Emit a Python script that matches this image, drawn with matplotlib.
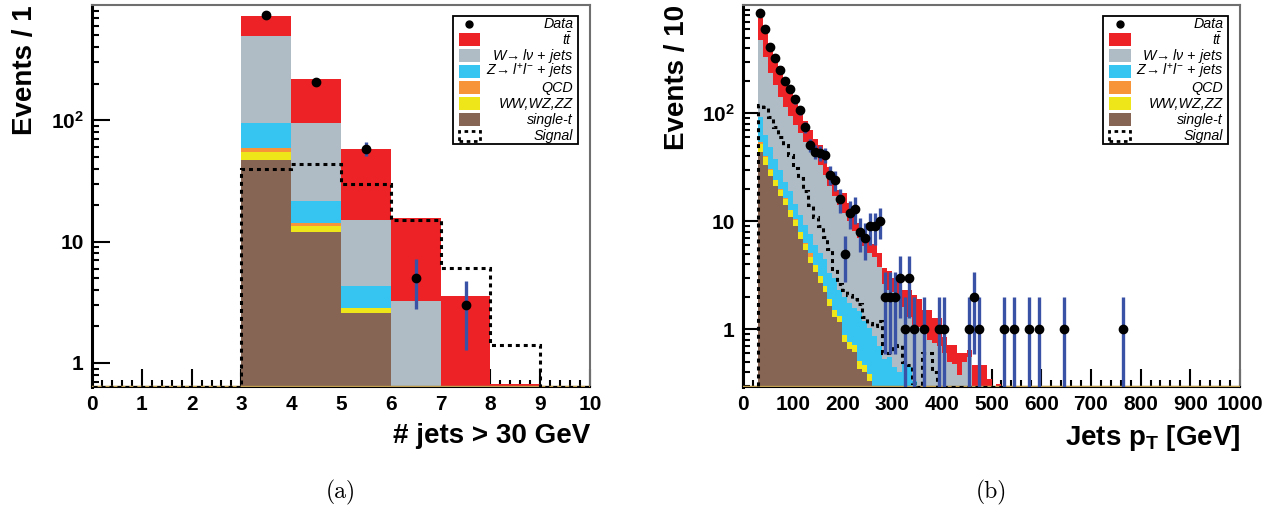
import numpy as np
import matplotlib
matplotlib.use("Agg")
import matplotlib.pyplot as plt
from matplotlib.patches import Rectangle
from matplotlib.ticker import FixedLocator, MultipleLocator, LogLocator, NullFormatter

plt.rcParams['font.family'] = ['Liberation Sans', 'DejaVu Sans']
plt.rcParams['mathtext.fontset'] = 'custom'
plt.rcParams['mathtext.rm'] = 'Liberation Sans'
plt.rcParams['mathtext.it'] = 'Liberation Sans:italic'
plt.rcParams['mathtext.bf'] = 'Liberation Sans:bold'

# ---- (a) jet multiplicity, bins of 1 from 0 to 10
njet_edges = np.arange(0, 11)
njet_singlet = [0, 0, 0, 47, 11.9, 2.56, 0, 0, 0, 0]
njet_diboson = [0, 0, 0, 7.6, 1.5, 0.26, 0, 0, 0, 0]
njet_qcd = [0, 0, 0, 4.0, 0.7, 0.03, 0, 0, 0, 0]
njet_zjets = [0, 0, 0, 35.4, 7.6, 1.48, 0, 0, 0, 0]
njet_wjets = [0, 0, 0, 398, 73.3, 10.7, 3.24, 0, 0, 0]
njet_ttbar = [0, 0, 0, 226, 125, 42.5, 12.4, 3.56, 0.67, 0]
njet_signal = [0, 0, 0, 40, 43.7, 29.7, 15, 6.1, 1.4, 0]
njet_data_x = [3.5, 4.5, 5.5, 6.5, 7.5]
njet_data = [735, 208, 58, 5, 3]

# ---- (b) jet pT, bins of 10 GeV from 30 to 520
pt_edges = np.arange(30, 530, 10)
pt_singlet = [44, 33, 26, 21, 17, 14, 11, 9.1, 6.9, 5.4, 4.1, 3.4, 2.7, 2.2, 1.66, 1.3,
              1.17, 0.76, 0.66, 0.62, 0.43, 0.40, 0.33] + [0] * 26
pt_diboson = [8, 6, 4, 3, 2.4, 2.0, 1.6, 1.2, 1.0, 0.8, 0.6, 0.5, 0.4, 0.32, 0.26, 0.2,
              0.17, 0.12, 0.1, 0.1, 0.08, 0.07, 0.06] + [0] * 26
pt_qcd = [2.5, 1.2, 0.4, 0.3, 0.6, 0.5, 0.15, 0.1, 0.1, 0.05, 0.35, 0.05, 0.03] + [0] * 36
pt_zjets = [37, 23, 18.6, 13.7, 10, 6.5, 6.1, 4.1, 3.5, 3.05, 2.5, 2.1, 2.0, 2.0, 1.4, 1.5,
            0.96, 1.12, 1.0, 0.86, 0.96, 0.72, 0.64, 0.86, 0.7, 0.53, 0.55, 0.45, 0.4,
            0.5, 0.45, 0.33] + [0] * 17
pt_wjets = [383, 265, 185, 145, 112, 92, 76, 63, 54, 45, 40, 34, 28, 22.5, 17.7, 14,
            11.9, 9.9, 8.2, 6.5, 5.5, 4.7, 4.05, 3.85, 3.1, 2.07, 1.75, 1.75, 1.6, 1.1,
            0.85, 0.77, 1.05, 0.95, 0.8, 0.75, 0.7, 0.6, 0.5, 0.48, 0.38, 0.5, 0.55,
            0.3, 0.3, 0, 0, 0, 0]
pt_ttbar = [288, 225, 201, 157, 128, 98, 77, 64.5, 45.5, 30.5, 22.4, 17.5, 17.9, 15, 11,
            7, 5.4, 6.4, 4.84, 3.82, 2.63, 2.5, 1.9, 1.39, 1.3, 1.1, 1.2, 0.8, 1.0, 0.7,
            1.0, 1.0, 0.85, 0.55, 0.7, 0.53, 0.58, 0.25, 0.22, 0.24, 0.22, 0.1, 0.1,
            0.17, 0.17, 0.47, 0.35, 0, 0.31]
pt_signal = [119, 113, 93, 75, 60, 51, 41, 31, 25, 19, 14, 11, 9, 7.2, 5.5, 3.6, 2.6,
             2.3, 2.1, 1.9, 1.7, 1.3, 1.15, 1.07, 1.2, 0.6, 0.6, 0.7, 0.72, 0.5, 0.47,
             0.32, 0.25, 0.6, 0.6, 0.4, 0.2] + [0] * 12
pt_data_x = [35, 45, 55, 65, 75, 85, 95, 105, 115, 125, 135, 145, 155, 165, 175, 185,
             195, 205, 215, 225, 235, 245, 255, 265, 275, 285, 295, 305, 315, 325, 335,
             345, 365, 395, 405, 455, 465, 475, 525, 545, 575, 595, 645, 765]
pt_data = [840, 597, 409, 324, 250, 197, 166, 134, 107, 74, 51, 44, 43, 41, 27, 24,
           16, 5, 12, 13, 8, 7, 9, 9, 10, 2, 2, 2, 3, 1, 3,
           1, 1, 1, 1, 1, 2, 1, 1, 1, 1, 1, 1, 1]

names = ["single-t", "WW,WZ,ZZ", "QCD", r"$Z\!\rightarrow l^{+}l^{-}$ + jets",
         r"$W\!\rightarrow l\nu$ + jets", r"$t\bar{t}$"]
colors = ["#876554", "#eee619", "#f7943a", "#36c4f0", "#afbcc6", "#ec2226"]
DOTS = (0, (1.3, 1.3))
FLOOR = 1e-4


def draw_key(ax):
    # ROOT style TLegend: frame, handle on the left, right-aligned italic text
    x0, x1, y0, y1 = 0.725, 0.976, 0.636, 0.972
    ax.add_patch(Rectangle((x0, y0), x1 - x0, y1 - y0, transform=ax.transAxes,
                           facecolor="white", edgecolor="k", lw=1.3, zorder=10))
    labels = ["Data"] + names[::-1] + ["Signal"]
    step = (y1 - y0) / len(labels)
    for i, lab in enumerate(labels):
        yc = y1 - step * (i + 0.5)
        if i == 0:
            ax.plot([x0 + 0.033], [yc], "o", color="k", ms=5, transform=ax.transAxes,
                    zorder=11, clip_on=False)
        elif lab == "Signal":
            ax.add_patch(Rectangle((x0 + 0.012, yc - 0.014), 0.042, 0.028,
                                   transform=ax.transAxes, facecolor="none",
                                   edgecolor="k", lw=2, ls=DOTS, zorder=11))
        else:
            col = colors[::-1][i - 1]
            ax.add_patch(Rectangle((x0 + 0.011, yc - 0.017), 0.044, 0.034,
                                   transform=ax.transAxes, facecolor=col,
                                   edgecolor="none", zorder=11))
        ax.text(x1 - 0.01, yc, lab, transform=ax.transAxes, ha="right", va="center",
                fontsize=10.3, style="italic", zorder=12)


def draw_panel(ax, edges, comps, signal, data_x, data_n, ymin, ymax):
    cum = np.cumsum(np.array(comps, dtype=float), axis=0)
    # THStack style: biggest cumulative first, then smaller ones over it
    for top, col in zip(cum[::-1], colors[::-1]):
        ax.stairs(np.maximum(top, FLOOR), edges, baseline=FLOOR, fill=True,
                  color=col, lw=0, zorder=2)
    ax.axhline(ymin, color="#c0a050", lw=2.5, zorder=3)
    sig = np.maximum(np.array(signal, dtype=float), ymin)
    ax.stairs(sig, edges, baseline=FLOOR, color="k", lw=2.2, ls=DOTS, zorder=4)
    n = np.array(data_n, dtype=float)
    err = np.sqrt(n)
    lo = np.minimum(err, n - 1e-3)
    ax.errorbar(data_x, n, yerr=[lo, err], fmt="o", color="k", ms=6,
                ecolor="#3a52a6", elinewidth=2.4, capsize=0, zorder=5)

    ax.set_yscale("log")
    ax.set_ylim(ymin, ymax)
    ax.yaxis.set_major_locator(FixedLocator([1, 10, 100]))
    ax.set_yticklabels(["1", "10", r"$\mathbf{10^{2}}$"])
    ax.yaxis.set_minor_locator(LogLocator(base=10, subs=np.arange(2, 10)))
    ax.yaxis.set_minor_formatter(NullFormatter())
    ax.tick_params(which="both", direction="in", top=False, right=False,
                   labelsize=15, width=1.5, pad=6)
    ax.tick_params(which="major", length=13)
    ax.tick_params(which="minor", length=5)
    for side in ["top", "right"]:
        ax.spines[side].set_color("#6f6f6f")
        ax.spines[side].set_linewidth(1.5)
    ax.spines["bottom"].set_linewidth(1.5)
    ax.spines["left"].set_linewidth(2.2)
    draw_key(ax)


fig = plt.figure(figsize=(12.78, 5.12), dpi=100)
ax1 = fig.add_axes([92 / 1278, 125 / 512, 498 / 1278, 382 / 512])
ax2 = fig.add_axes([743 / 1278, 125 / 512, 497 / 1278, 382 / 512])

draw_panel(ax1, njet_edges,
           [njet_singlet, njet_diboson, njet_qcd, njet_zjets, njet_wjets, njet_ttbar],
           njet_signal, njet_data_x, njet_data, 0.634, 890)
ax1.set_xlim(0, 10)
ax1.xaxis.set_major_locator(MultipleLocator(1))
ax1.xaxis.set_minor_locator(MultipleLocator(0.2))

draw_panel(ax2, pt_edges,
           [pt_singlet, pt_diboson, pt_qcd, pt_zjets, pt_wjets, pt_ttbar],
           pt_signal, pt_data_x, pt_data, 0.293, 1000)
ax2.set_xlim(0, 1000)
ax2.xaxis.set_major_locator(MultipleLocator(100))
ax2.xaxis.set_minor_locator(MultipleLocator(20))

for ax in (ax1, ax2):
    for lab in ax.get_xticklabels() + ax.get_yticklabels():
        lab.set_fontweight("bold")

ax1.set_ylabel("Events / 1", fontsize=20, fontweight="bold", loc="top")
ax2.set_ylabel("Events / 10", fontsize=20, fontweight="bold", loc="top")
ax1.yaxis.set_label_coords(-0.108, 1.0)
ax2.yaxis.set_label_coords(-0.107, 1.0)
ax1.set_xlabel("# jets > 30 GeV", fontsize=20, fontweight="bold", loc="right")
ax2.set_xlabel(r"Jets p$_{\mathbf{T}}$ [GeV]", fontsize=20, fontweight="bold", loc="right")
ax1.xaxis.set_label_coords(1.0, -0.095)
ax2.xaxis.set_label_coords(1.0, -0.095)

ax1.text(0.5, -0.275, "(a)", transform=ax1.transAxes, ha="center", va="center",
         fontsize=17, family="cmr10")
ax2.text(0.5, -0.275, "(b)", transform=ax2.transAxes, ha="center", va="center",
         fontsize=17, family="cmr10")

fig.savefig("out.png", dpi=100)
